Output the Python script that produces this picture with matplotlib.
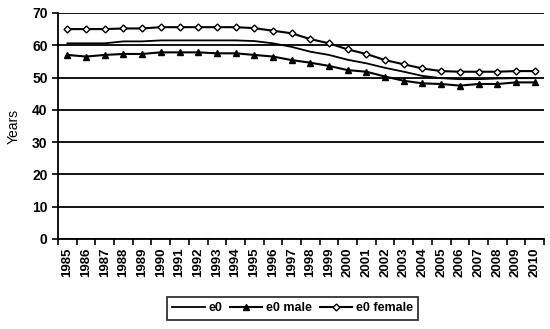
import matplotlib.pyplot as plt

# DATA
years = [str(y) for y in range(1985, 2011)]
e0 = [60.6, 60.6, 60.6, 61.2, 61.2, 61.5, 61.5, 61.5, 61.5, 61.5, 61.3, 60.6,
      59.5, 58.0, 57.0, 55.5, 54.4, 53.0, 51.8, 50.5, 49.8, 49.5, 49.5, 49.7, 49.8, 49.8]
e0_male = [57.0, 56.5, 57.0, 57.3, 57.3, 57.8, 57.8, 57.8, 57.5, 57.5, 57.0, 56.5,
           55.4, 54.6, 53.6, 52.3, 51.8, 50.3, 49.0, 48.2, 48.0, 47.5, 48.0, 48.0, 48.5, 48.5]
e0_female = [65.0, 65.0, 65.0, 65.2, 65.2, 65.6, 65.6, 65.6, 65.6, 65.6, 65.3, 64.5,
             63.7, 61.9, 60.6, 58.7, 57.3, 55.4, 54.1, 52.8, 52.0, 51.8, 51.8, 51.8, 52.0, 52.0]

plt.rcParams['font.family'] = ['Liberation Sans', 'DejaVu Sans']

fig = plt.figure(figsize=(5.5, 3.29), dpi=100)
ax = fig.add_axes([0.1055, 0.2736, 0.8835, 0.687])

x = range(len(years))
ax.plot(x, e0, color='black', lw=1.3, label='e0')
ax.plot(x, e0_male, color='black', lw=1.5, marker='^', ms=4.5, label='e0 male')
ax.plot(x, e0_female, color='black', lw=1.5, marker='D', ms=3.5,
        markerfacecolor='white', markeredgewidth=1, label='e0 female')

ax.set_ylim(0, 70)
ax.set_xlim(-0.5, len(years) - 0.5)
ax.set_yticks(range(0, 71, 10))
ax.yaxis.grid(True, color='black', lw=1.3)
ax.set_axisbelow(True)

ax.set_xticks(list(x))
ax.set_xticklabels(years, rotation=90, fontsize=9.5, fontweight='bold')
ax.set_xticks([i - 0.5 for i in range(len(years) + 1)], minor=True)
ax.tick_params(axis='x', which='major', length=0, pad=6)
ax.tick_params(axis='x', which='minor', length=4, width=1.2, direction='out')
ax.tick_params(axis='y', labelsize=10, length=4, width=1.2)
for lab in ax.get_yticklabels():
    lab.set_fontweight('bold')

for s in ['top', 'right']:
    ax.spines[s].set_visible(False)
ax.spines['left'].set_linewidth(1.3)
ax.spines['bottom'].set_linewidth(1.3)

ax.set_ylabel('Years', fontsize=10, labelpad=8)

leg = fig.legend(loc='center', bbox_to_anchor=(0.532, 0.063), ncol=3,
                 frameon=True, fancybox=False, edgecolor='black',
                 handlelength=2.6, columnspacing=0.6, handletextpad=0.3,
                 borderpad=0.45, prop={'weight': 'bold', 'size': 9})
leg.get_frame().set_linewidth(1.3)

fig.savefig('out.png', dpi=100)
